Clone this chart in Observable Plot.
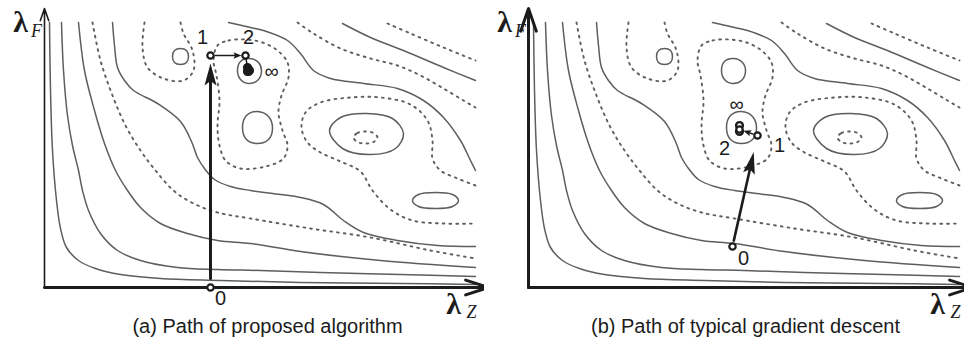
<!DOCTYPE html>
<html><head><meta charset="utf-8">
<script src="https://cdn.jsdelivr.net/npm/d3@7"></script>
<script src="https://cdn.jsdelivr.net/npm/@observablehq/plot@0.6"></script>
<style>
body{margin:0;background:#fff;}
#wrap{display:flex;width:964px;height:342px;overflow:hidden;background:#fff;}
#wrap svg{flex:none;overflow:visible;}
[aria-label="caption"], [aria-label="caption"] text{letter-spacing:0.8px;}
</style></head><body><div id="wrap"></div>
<script>
// ---- contour lines (λZ, λF units) ----
const contourSolid1 = [[5,265],[6,197],[8,137],[12,87],[16,59],[22,40],[34,27],[51,19],[76,13],[116,9],[176,7],[256,5],[356,4],[431,3]];
const contourSolid2 = [[17,265],[19,217],[23,172],[28,142],[34,117],[38,97],[44,77],[56,54],[73,37],[96,27],[133,20],[173,18],[216,17],[276,15],[356,13],[431,11]];
const contourSolid3 = [[34,265],[40,217],[50,177],[60,144],[71,117],[83,97],[96,80],[116,64],[143,54],[173,47],[206,44],[256,36],[336,27],[431,20]];
const contourSolid4 = [[68,265],[70,242],[73,220],[80,207],[89,197],[113,184],[136,166],[147,146],[153,130],[160,119],[170,108],[186,101],[206,97],[236,93],[256,90],[279,83],[299,67],[319,55],[353,47],[393,42],[431,41]];
const contourSolid5 = [[184,265],[206,260],[219,257],[243,247],[256,234],[269,217],[286,209],[319,204],[353,199],[379,187],[399,170],[416,147],[426,127],[431,117]];
const contourSolid6 = [[298,264],[326,250],[359,237],[399,220],[431,207]];
const contourDotted1 = [[48,265],[56,227],[68,192],[81,162],[96,137],[111,117],[129,97],[149,84],[173,75],[206,69],[266,59],[326,50],[386,37],[431,29]];
const contourDotted2 = [[253,265],[269,254],[296,239],[326,229],[353,222],[376,212],[399,199],[419,187],[431,180]];
const contourDotted3 = [[343,264],[366,254],[399,240],[431,227]];
const contourDotted4 = [[431,102],[413,109],[396,117],[388,129],[388,147],[383,167],[366,183],[336,190],[306,190],[276,185],[261,175],[257,160],[263,145],[276,135],[296,126],[316,116],[328,97],[346,78],[368,67],[399,64],[431,64]];
const contourDotted5 = [[100,265],[98,240],[103,220],[119,209],[139,207],[149,217],[148,237],[139,254],[136,265]];
// closed loops
const loopSolid1 = [[285,157],[296,170],[322,174],[348,169],[359,154],[351,139],[326,133],[298,139]];
const loopSolid2 = [[198,160],[202,172],[213,176],[224,171],[228,159],[224,148],[213,144],[202,148]];
const loopSolid3 = [[193,217],[196,226],[205,229],[214,225],[217,216],[213,207],[204,204],[196,208]];
const loopSolid4 = [[128,231],[130,237],[136,239],[142,237],[144,231],[142,225],[136,223],[130,225]];
const loopSolid5 = [[368,87],[374,93],[391,95],[408,93],[414,87],[408,81],[391,79],[374,81]];
const loopDotted1 = [[309,150],[313,154.5],[321,156],[329,154.5],[333,150],[329,145.5],[321,144],[313,145.5]];
const loopDotted2 = [[173,242],[184,247],[201,248],[218,245],[233,237],[243,225],[244,210],[237,192],[234,175],[238,157],[243,142],[239,129],[221,121],[196,119],[181,127],[175,142],[173,162],[175,187],[172,212],[169,227]];

// ---- optimisation paths ----
const pathA = [[166,0],[166,232],[201,232]];
const iteratesA = [[203,220],[204,218],[203,216],[205,217],[204,216]];
const pathB = [[204,41],[229,152],[211,158]];
const iteratesB = [[211,162],[211,156]];
const stepLabels = ["0","1","2"];
const limitLabel = "∞";
const captionA = "(a) Path of proposed algorithm";
const captionB = "(b) Path of typical gradient descent";
const axisLabelX = ["λ","Z"];
const axisLabelY = ["λ","F"];

const solidOpen = [contourSolid1,contourSolid2,contourSolid3,contourSolid4,contourSolid5,contourSolid6];
const dottedOpen = [contourDotted1,contourDotted2,contourDotted3,contourDotted4,contourDotted5];
const solidClosed = [loopSolid1,loopSolid2,loopSolid3,loopSolid4,loopSolid5];
const dottedClosed = [loopDotted1,loopDotted2];

const rows = list => list.flatMap((pts,i) => pts.map(([x,y]) => ({x,y,id:i})));
const INK = "#1c1c1c", CONTOUR = "#5e5e5e";
const SANS = "Liberation Sans, Arial, sans-serif", SERIF = "Liberation Serif, Times New Roman, serif";
const DOTS = "1.8 5";

function headSymbol(angle, L, w) {
  const c = Math.cos(angle), s = Math.sin(angle);
  const rot = (x,y) => [x*c - y*s, x*s + y*c];
  return {draw(ctx) {
    const a = rot(0,0), b = rot(-w,L), m = rot(0,L*0.8), d = rot(w,L);
    ctx.moveTo(a[0],a[1]); ctx.lineTo(b[0],b[1]); ctx.lineTo(m[0],m[1]); ctx.lineTo(d[0],d[1]); ctx.closePath();
  }};
}
function arrowMarks(A, B, g1, g2, L, w, sw) {
  const dx = B[0]-A[0], dy = B[1]-A[1], len = Math.hypot(dx,dy), ux = dx/len, uy = dy/len;
  const tip = [B[0]-ux*g2, B[1]-uy*g2];
  const end = [tip[0]-ux*L*0.75, tip[1]-uy*L*0.75];
  const start = [A[0]+ux*g1, A[1]+uy*g1];
  const sym = headSymbol(Math.atan2(ux, uy), L, w);
  return [
    Plot.line([start,end], {x: d=>d[0], y: d=>d[1], stroke: INK, strokeWidth: sw}),
    Plot.dot([tip], {x: d=>d[0], y: d=>d[1], symbol: sym, r: 5, fill: INK, stroke: "none"})
  ];
}

function panel(cfg) {
  const lab = (p, t, dx, dy, size=20) => Plot.text([p], {x: d=>d[0], y: d=>d[1], text: [t], dx, dy, fontSize: size, fontFamily: SANS, fill: INK});
  const marks = [
    Plot.line(rows(solidOpen), {x:"x", y:"y", z:"id", curve:"catmull-rom", stroke: CONTOUR, strokeWidth: 1.5}),
    Plot.line(rows(solidClosed), {x:"x", y:"y", z:"id", curve:"catmull-rom-closed", stroke: CONTOUR, strokeWidth: 1.5}),
    Plot.line(rows(dottedOpen), {x:"x", y:"y", z:"id", curve:"catmull-rom", stroke: CONTOUR, strokeWidth: 1.9, strokeDasharray: DOTS}),
    Plot.line(rows(dottedClosed), {x:"x", y:"y", z:"id", curve:"catmull-rom-closed", stroke: CONTOUR, strokeWidth: 1.9, strokeDasharray: DOTS}),
    Plot.arrow([{x1:0,y1:0,x2:0,y2:279}], {x1:"x1",y1:"y1",x2:"x2",y2:"y2", stroke: INK, strokeWidth: cfg.yAxisWidth, headLength: 12, headAngle: 38}),
    Plot.arrow([{x1:0,y1:0,x2:444,y2:0}], {x1:"x1",y1:"y1",x2:"x2",y2:"y2", stroke: INK, strokeWidth: 3, headLength: 12, headAngle: 36}),
    Plot.text([axisLabelY[0]], {x: -24, y: 265, text: d=>d, fontSize: 30, fontWeight: "bold", fontFamily: SERIF, fill: INK}),
    Plot.text([axisLabelY[1]], {x: -8, y: 256, text: d=>d, fontSize: 18, fontStyle: "italic", fontFamily: SERIF, fill: INK}),
    Plot.text([axisLabelX[0]], {x: 409, y: -17, text: d=>d, fontSize: 30, fontWeight: "bold", fontFamily: SERIF, fill: INK}),
    Plot.text([axisLabelX[1]], {x: 427, y: -25, text: d=>d, fontSize: 18, fontStyle: "italic", fontFamily: SERIF, fill: INK}),
    Plot.text([cfg.caption], {x: cfg.captionX, y: -39, text: d=>d, fontSize: 20, fontFamily: SANS, fill: INK, ariaLabel: "caption"}),
    ...cfg.arrows.flatMap(a => arrowMarks(...a)),
    Plot.line([cfg.path[cfg.path.length-1], ...cfg.iterates], {x: d=>d[0], y: d=>d[1], stroke: INK, strokeWidth: 1.5}),
    Plot.dot(cfg.iterates, {x: d=>d[0], y: d=>d[1], r: 3.4, stroke: INK, strokeWidth: 2.4, fill: cfg.iterateFill}),
    Plot.dot(cfg.path, {x: d=>d[0], y: d=>d[1], r: 3.2, stroke: INK, strokeWidth: 2.2, fill: "white"}),
    ...cfg.labels.map(([p,t,dx,dy]) => lab(p,t,dx,dy))
  ];
  return Plot.plot({
    width: cfg.width, height: 342, marginLeft: 44, marginRight: 0, marginTop: 7, marginBottom: 55,
    x: {domain: [0,444], range: [44,488], axis: null},
    y: {domain: [0,280], range: [287,7], axis: null},
    style: {background: "white", overflow: "visible"},
    marks
  });
}

const wrap = document.getElementById("wrap");
const lastA = iteratesA[iteratesA.length-1];
wrap.appendChild(panel({
  width: 484, yAxisWidth: 1.6, caption: captionA, captionX: 223, iterateFill: INK,
  path: pathA, iterates: iteratesA,
  arrows: [[pathA[0], pathA[1], 9, 8, 22, 6, 3], [pathA[1], pathA[2], 5, 4, 8, 3.2, 1.5]],
  labels: [[pathA[0], stepLabels[0], 10, 11], [pathA[1], stepLabels[1], -8, -18], [pathA[2], stepLabels[2], 3, -18], [lastA, limitLabel, 23, 0]]
}));
wrap.appendChild(panel({
  width: 480, yAxisWidth: 3, caption: captionB, captionX: 217, iterateFill: "white",
  path: pathB, iterates: iteratesB,
  arrows: [[pathB[0], pathB[1], 6, 17, 22, 6, 2.6], [pathB[1], pathB[2], 5, 4, 8, 3.2, 1.5]],
  labels: [[pathB[0], stepLabels[0], 11, 12], [pathB[1], stepLabels[1], 22, 10], [pathB[2], stepLabels[2], -15, 19], [pathB[2], limitLabel, -3, -25]]
}));
</script></body></html>
